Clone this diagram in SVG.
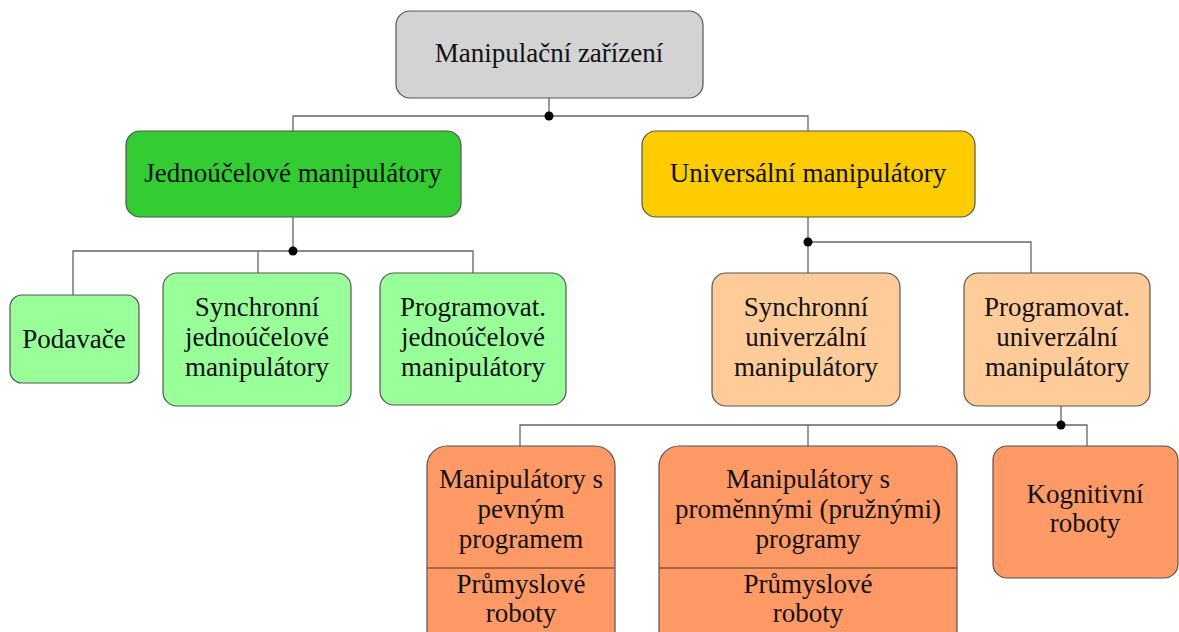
<svg xmlns="http://www.w3.org/2000/svg" width="1179" height="632" viewBox="0 0 1179 632">
<style>
.box{stroke:#555;stroke-width:1.2}
text{font-family:'Liberation Serif','Times New Roman',Tinos,'DejaVu Serif',serif;font-size:27px;fill:#111;text-anchor:middle}
.c{fill:none;stroke:#666;stroke-width:1.3}
.g{fill:#d3d3d3}.dg{fill:#33cc33}.y{fill:#ffcc00}.lg{fill:#99ff99}.pe{fill:#ffcc99}.or{fill:#ff9966}
.dv{stroke:#8a5535;stroke-width:1.3}
</style>
<rect width="1179" height="632" fill="#fff"/>
<g id="connectors">
<path class="c" d="M549 98V116M293 131V116H808V131"/>
<path class="c" d="M293 217V251M73 295V251H473V273M258 251V273"/>
<path class="c" d="M808 217V273M808 242H1031V273"/>
<path class="c" d="M1061 406V425M520 446V425H1087V446M808 425V446"/>
<circle cx="549" cy="116" r="4.5" fill="#000"/>
<circle cx="293" cy="251" r="4.5" fill="#000"/>
<circle cx="808" cy="242" r="4.5" fill="#000"/>
<circle cx="1061" cy="425" r="4.5" fill="#000"/>
</g>
<g id="root">
<rect class="box g" x="396" y="11" width="307" height="87" rx="14"/>
<text x="549" y="62">Manipulační zařízení</text>
</g>
<g id="jednoucelove">
<rect class="box dg" x="126" y="131" width="335" height="86" rx="14"/>
<text x="293" y="182">Jednoúčelové manipulátory</text>
</g>
<g id="universalni">
<rect class="box y" x="642" y="131" width="333" height="86" rx="14"/>
<text x="808" y="182">Universální manipulátory</text>
</g>
<g id="podavace">
<rect class="box lg" x="10" y="295" width="129" height="88" rx="12"/>
<text x="74" y="348">Podavače</text>
</g>
<g id="sync-jedn">
<rect class="box lg" x="163" y="273" width="188" height="133" rx="14"/>
<text x="257" y="316">Synchronní</text>
<text x="257" y="346">jednoúčelové</text>
<text x="257" y="376">manipulátory</text>
</g>
<g id="prog-jedn">
<rect class="box lg" x="380" y="273" width="186" height="132" rx="14"/>
<text x="473" y="316">Programovat.</text>
<text x="473" y="346">jednoúčelové</text>
<text x="473" y="376">manipulátory</text>
</g>
<g id="sync-univ">
<rect class="box pe" x="712" y="273" width="188" height="133" rx="14"/>
<text x="806" y="316">Synchronní</text>
<text x="806" y="346">univerzální</text>
<text x="806" y="376">manipulátory</text>
</g>
<g id="prog-univ">
<rect class="box pe" x="964" y="273" width="186" height="133" rx="14"/>
<text x="1057" y="316">Programovat.</text>
<text x="1057" y="346">univerzální</text>
<text x="1057" y="376">manipulátory</text>
</g>
<g id="pevny">
<rect class="box or" x="427" y="446" width="188" height="210" rx="20"/>
<line class="dv" x1="427" y1="568" x2="615" y2="568"/>
<text x="521" y="488">Manipulátory s</text>
<text x="521" y="518">pevným</text>
<text x="521" y="548">programem</text>
<text x="521" y="593">Průmyslové</text>
<text x="521" y="622">roboty</text>
</g>
<g id="promenny">
<rect class="box or" x="659" y="446" width="298" height="210" rx="20"/>
<line class="dv" x1="659" y1="568" x2="957" y2="568"/>
<text x="808" y="488">Manipulátory s</text>
<text x="808" y="518">proměnnými (pružnými)</text>
<text x="808" y="548">programy</text>
<text x="808" y="593">Průmyslové</text>
<text x="808" y="622">roboty</text>
</g>
<g id="kognitivni">
<rect class="box or" x="993" y="446" width="185" height="132" rx="14"/>
<text x="1085" y="503">Kognitivní</text>
<text x="1085" y="532">roboty</text>
</g>
</svg>
